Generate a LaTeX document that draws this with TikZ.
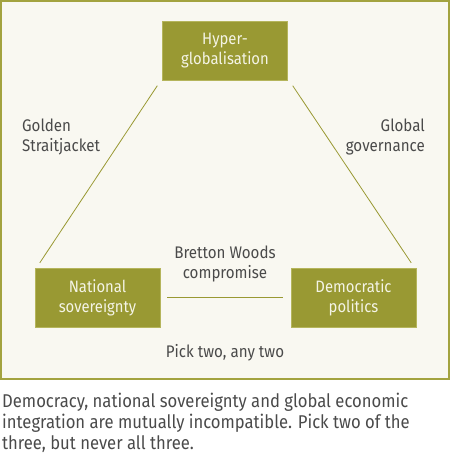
\documentclass[tikz,border=0pt]{standalone}
\usepackage{fontspec}
\setmainfont{Fira Sans}[FakeStretch=0.9]
\usepackage{xcolor}
\usetikzlibrary{positioning}
\definecolor{boxfill}{HTML}{999933}
\definecolor{boxedge}{HTML}{B5B55C}
\definecolor{framecol}{HTML}{A3A340}
\definecolor{paper}{HTML}{F9F8F1}
\definecolor{inktext}{HTML}{4A4A4A}
\definecolor{boxtext}{HTML}{F4F4E6}

\begin{document}
\begin{tikzpicture}[x=1pt,y=-1pt,
        corner/.style={draw=boxedge, fill=boxfill, text=boxtext, minimum width=125pt, minimum height=59pt,
            inner sep=0pt, align=center, font=\fontsize{16.5}{20}\selectfont},
        leg/.style={draw=boxfill, line width=0.8pt},
        note/.style={text=inktext, font=\fontsize{16.8}{20}\selectfont, inner sep=0pt}]
        \useasboundingbox (0,0) rectangle (454,454);
        \draw[framecol, line width=2pt, fill=paper] (1,1) rectangle (449,379);
        % the three corners of the trilemma
        \node[corner] (hyper) at (225,51) {Hyper-\\globalisation};
        \node[corner] (nation) at (97.5,297.5) {National\\sovereignty};
        \node[corner] (democ) at (353.5,297.5) {Democratic\\politics};
        % the sides
        \draw[leg] ([shift={(-5,5)}]hyper.south west) -- ([shift={(5,-5)}]nation.north west);
        \draw[leg] ([shift={(5,5)}]hyper.south east) -- ([shift={(-5,-5)}]democ.north east);
        \draw[leg, shorten <=7pt, shorten >=8pt] (nation.east) -- (democ.west);
        % names of the sides
        \node[note, align=left, anchor=west] (golden) at (22,137) {Golden\\Straitjacket};
        \node[note, align=right, anchor=east] (govern) at (425,137) {Global\\governance};
        \node[note, align=center] (bretton) at (225,264) {Bretton Woods\\compromise};
        \node[note] (pick) at (225,353) {Pick two, any two};
        % caption
        \node[note, align=left, anchor=north west, font=\fontsize{18.5}{21}\selectfont] (caption) at (2,393)
            {Democracy, national sovereignty and global economic\\
             integration are mutually incompatible. Pick two of the\\
             three, but never all three.};
    \end{tikzpicture}
\end{document}
